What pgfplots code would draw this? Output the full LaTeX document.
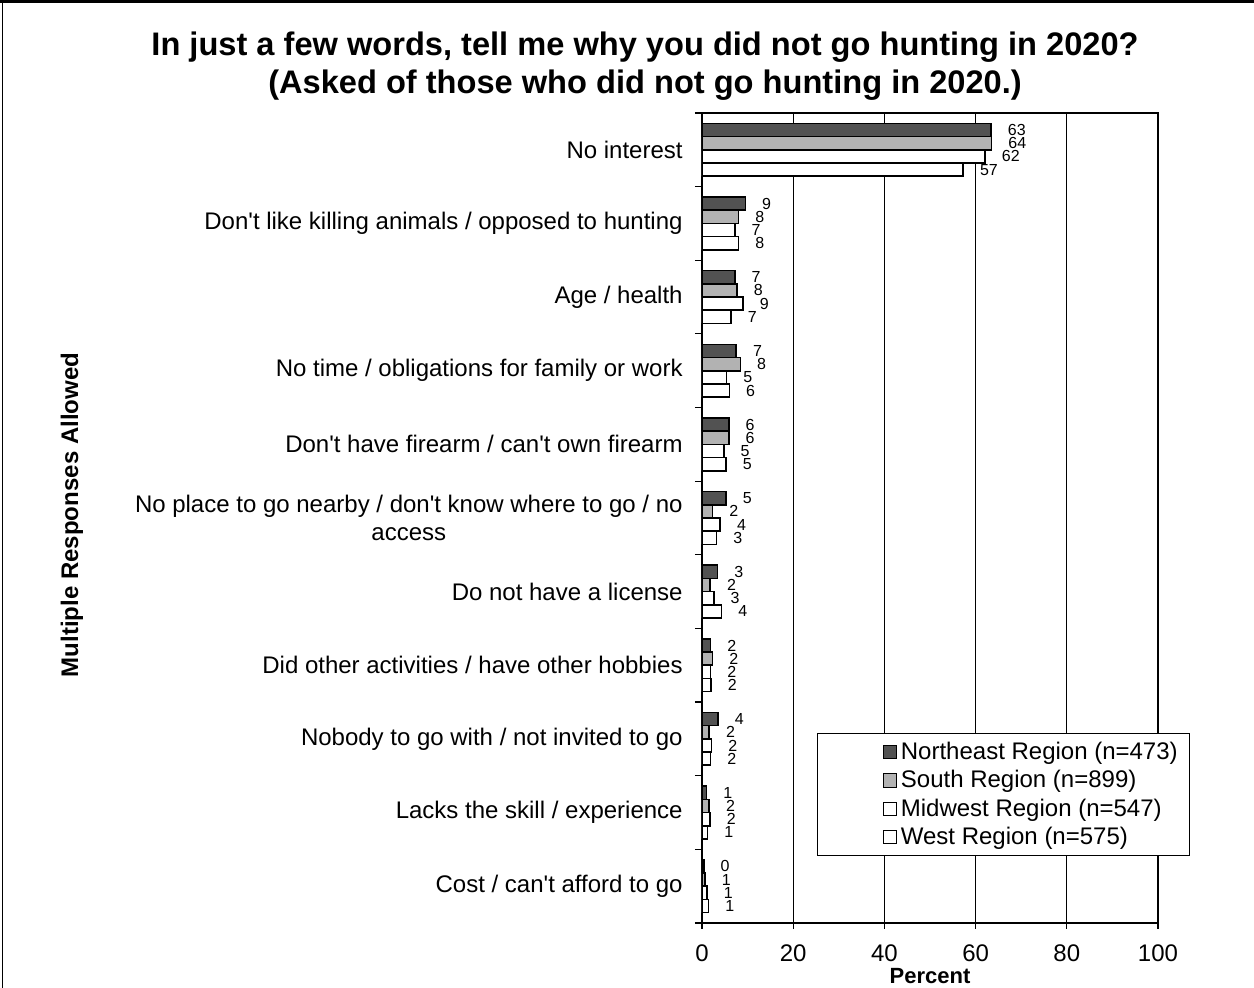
\documentclass[border=0pt]{standalone}
\usepackage{pgfplots}
\pgfplotsset{compat=1.18}
\usepackage{pgfplotstable}
\usepackage{fontspec}
\setmainfont{Liberation Sans}

% y: 10 = top category (No interest), 0 = bottom category (Cost)
\pgfplotstableread{
y ne nel so sol mw mwl we wel
10 63.4 63 63.5 64 62.1 62 57.3 57
9 9.5 9 8.0 8 7.2 7 8.0 8
8 7.2 7 7.7 8 9.0 9 6.4 7
7 7.5 7 8.4 8 5.4 5 6.0 6
6 5.9 6 5.9 6 4.8 5 5.3 5
5 5.3 5 2.3 2 4.0 4 3.2 3
4 3.4 3 1.8 2 2.6 3 4.3 4
3 1.9 2 2.3 2 1.9 2 2.0 2
2 3.5 4 1.6 2 2.1 2 1.9 2
1 1.0 1 1.6 2 1.75 2 1.2 1
0 0.4 0 0.7 1 1.1 1 1.45 1
}\datatable

\begin{document}
\begin{tikzpicture}
\path[use as bounding box] (0,0) rectangle (627pt,494pt);
\draw[line width=1.4pt] (0,493.3pt) -- (627pt,493.3pt);
\draw[line width=0.6pt] (1.2pt,0) -- (1.2pt,494pt);
\node[font=\fontsize{16.3}{19}\selectfont\bfseries, align=center] at (322.5pt,461pt)
  {In just a few words, tell me why you did not go hunting in 2020?\\(Asked of those who did not go hunting in 2020.)};
\node[font=\fontsize{12}{14}\selectfont\bfseries, rotate=90] at (36pt,236.5pt) {Multiple Responses Allowed};
\begin{axis}[
  at={(351pt,32.5pt)}, anchor=south west,
  scale only axis, width=228pt, height=405pt,
  xbar=0pt, bar width=6.6pt,
  xmin=0, xmax=100, ymin=-0.5, ymax=10.5,
  xtick={0,20,...,100},
  ytick={0,...,10},
  yticklabels={Cost / can\textquotesingle t afford to go, Lacks the skill / experience, Nobody to go with / not invited to go, Did other activities / have other hobbies, Do not have a license, {No place to go nearby / don\textquotesingle t know where to go / no\\access}, Don\textquotesingle t have firearm / can\textquotesingle t own firearm, No time / obligations for family or work, Age / health, Don\textquotesingle t like killing animals / opposed to hunting, No interest},
  minor ytick={-0.5,0.5,...,10.5},
  major y tick style={draw=none},
  minor tick length=3.5pt, major tick length=3pt,
  tick align=outside, tick pos=left,
  xmajorgrids, grid style={black, line width=0.6pt},
  axis line style={line width=1.2pt},
  every tick/.style={black, line width=0.6pt},
  /pgf/number format/assume math mode=true,
  tick label style={font=\fontsize{12}{14}\selectfont},
  yticklabel style={align=center, inner sep=0pt, xshift=-6.5pt},
  xticklabel style={yshift=-4.5pt},
  xlabel={Percent},
  xlabel style={font=\fontsize{11}{12}\selectfont\bfseries, yshift=3.5pt},
  point meta=explicit symbolic,
  nodes near coords,
  nodes near coords style={anchor=west, font=\fontsize{8}{9}\selectfont, xshift=7.5pt, inner sep=0.5pt},
  reverse legend,
  legend cell align=left,
  legend style={at={(rel axis cs:0.252,0.234)}, anchor=north west, font=\fontsize{12}{14}\selectfont, draw=black, line width=0.5pt, inner xsep=4pt, inner ysep=2pt, row sep=0pt},
  legend image code/.code={\path (-28.5pt,0pt); \draw[#1, line width=0.5pt] (0pt,-3.3pt) rectangle (6.6pt,3.3pt);},
]
\addplot[draw=black, line width=0.8pt, fill=white] table[x=we, y=y, meta=wel] {\datatable};
\addlegendentry{West Region (n=575)}
\addplot[draw=black, line width=0.8pt, fill=white] table[x=mw, y=y, meta=mwl] {\datatable};
\addlegendentry{Midwest Region (n=547)}
\addplot[draw=black, line width=0.8pt, fill=black!30] table[x=so, y=y, meta=sol] {\datatable};
\addlegendentry{South Region (n=899)}
\addplot[draw=black, line width=0.8pt, fill=black!68] table[x=ne, y=y, meta=nel] {\datatable};
\addlegendentry{Northeast Region (n=473)}
\end{axis}
\end{tikzpicture}
\end{document}
